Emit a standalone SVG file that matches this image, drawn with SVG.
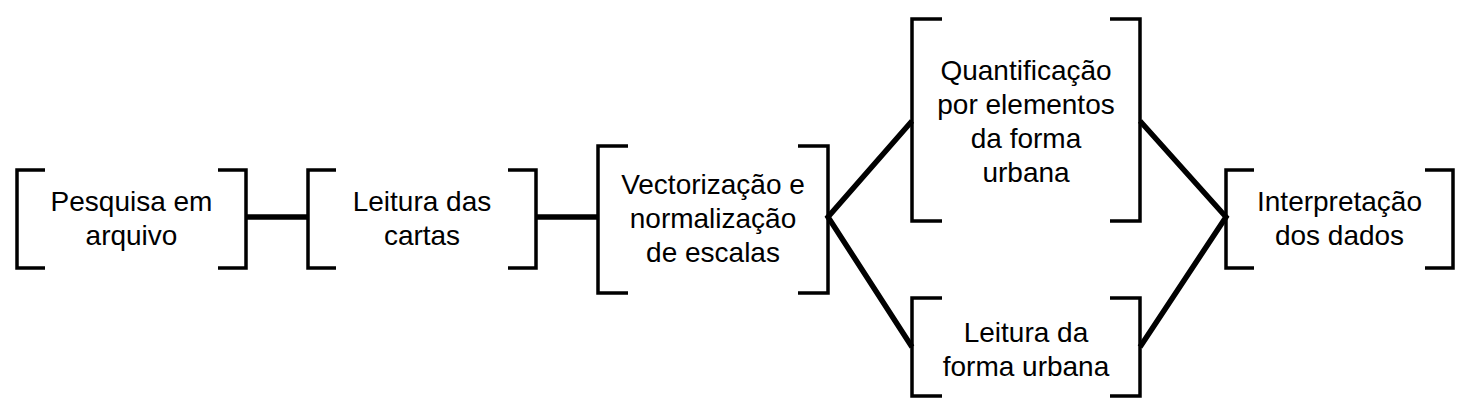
<svg xmlns="http://www.w3.org/2000/svg" width="1470" height="413" viewBox="0 0 1470 413">
<style>
.br{fill:none;stroke:#000;stroke-width:3.5;stroke-linecap:butt;stroke-linejoin:miter}
.cn{fill:none;stroke:#000;stroke-width:5.5;stroke-linecap:butt}
text{font-family:"Liberation Sans",Arial,sans-serif;font-size:28px;fill:#000;text-anchor:middle}
</style>
<rect width="1470" height="413" fill="#fff"/>
<g id="connectors">
<line class="cn" x1="246" y1="217" x2="308" y2="217"/>
<line class="cn" x1="536" y1="217" x2="598" y2="217"/>
<polyline class="cn" points="912,121 828,217 912,347"/>
<polyline class="cn" points="1140,121 1226,217 1140,347"/>
</g>
<g id="n1">
<path class="br" d="M45,170H17V268H45M218,170H246V268H218"/>
<text x="131.5" y="211">Pesquisa em</text>
<text x="131.5" y="245">arquivo</text>
</g>
<g id="n2">
<path class="br" d="M336,170H308V268H336M508,170H536V268H508"/>
<text x="422" y="211">Leitura das</text>
<text x="422" y="245">cartas</text>
</g>
<g id="n3">
<path class="br" d="M628,146H598V293H628M798,146H828V293H798"/>
<text x="713" y="194">Vectorização e</text>
<text x="713" y="228">normalização</text>
<text x="713" y="262">de escalas</text>
</g>
<g id="n4">
<path class="br" d="M942,19H912V221H942M1110,19H1140V221H1110"/>
<text x="1026" y="80">Quantificação</text>
<text x="1026" y="114">por elementos</text>
<text x="1026" y="148">da forma</text>
<text x="1026" y="182">urbana</text>
</g>
<g id="n5">
<path class="br" d="M942,298H912V396H942M1110,298H1140V396H1110"/>
<text x="1026" y="342">Leitura da</text>
<text x="1026" y="376">forma urbana</text>
</g>
<g id="n6">
<path class="br" d="M1254,170H1226V268H1254M1425,170H1453V268H1425"/>
<text x="1339.5" y="211">Interpretação</text>
<text x="1339.5" y="245">dos dados</text>
</g>
</svg>
